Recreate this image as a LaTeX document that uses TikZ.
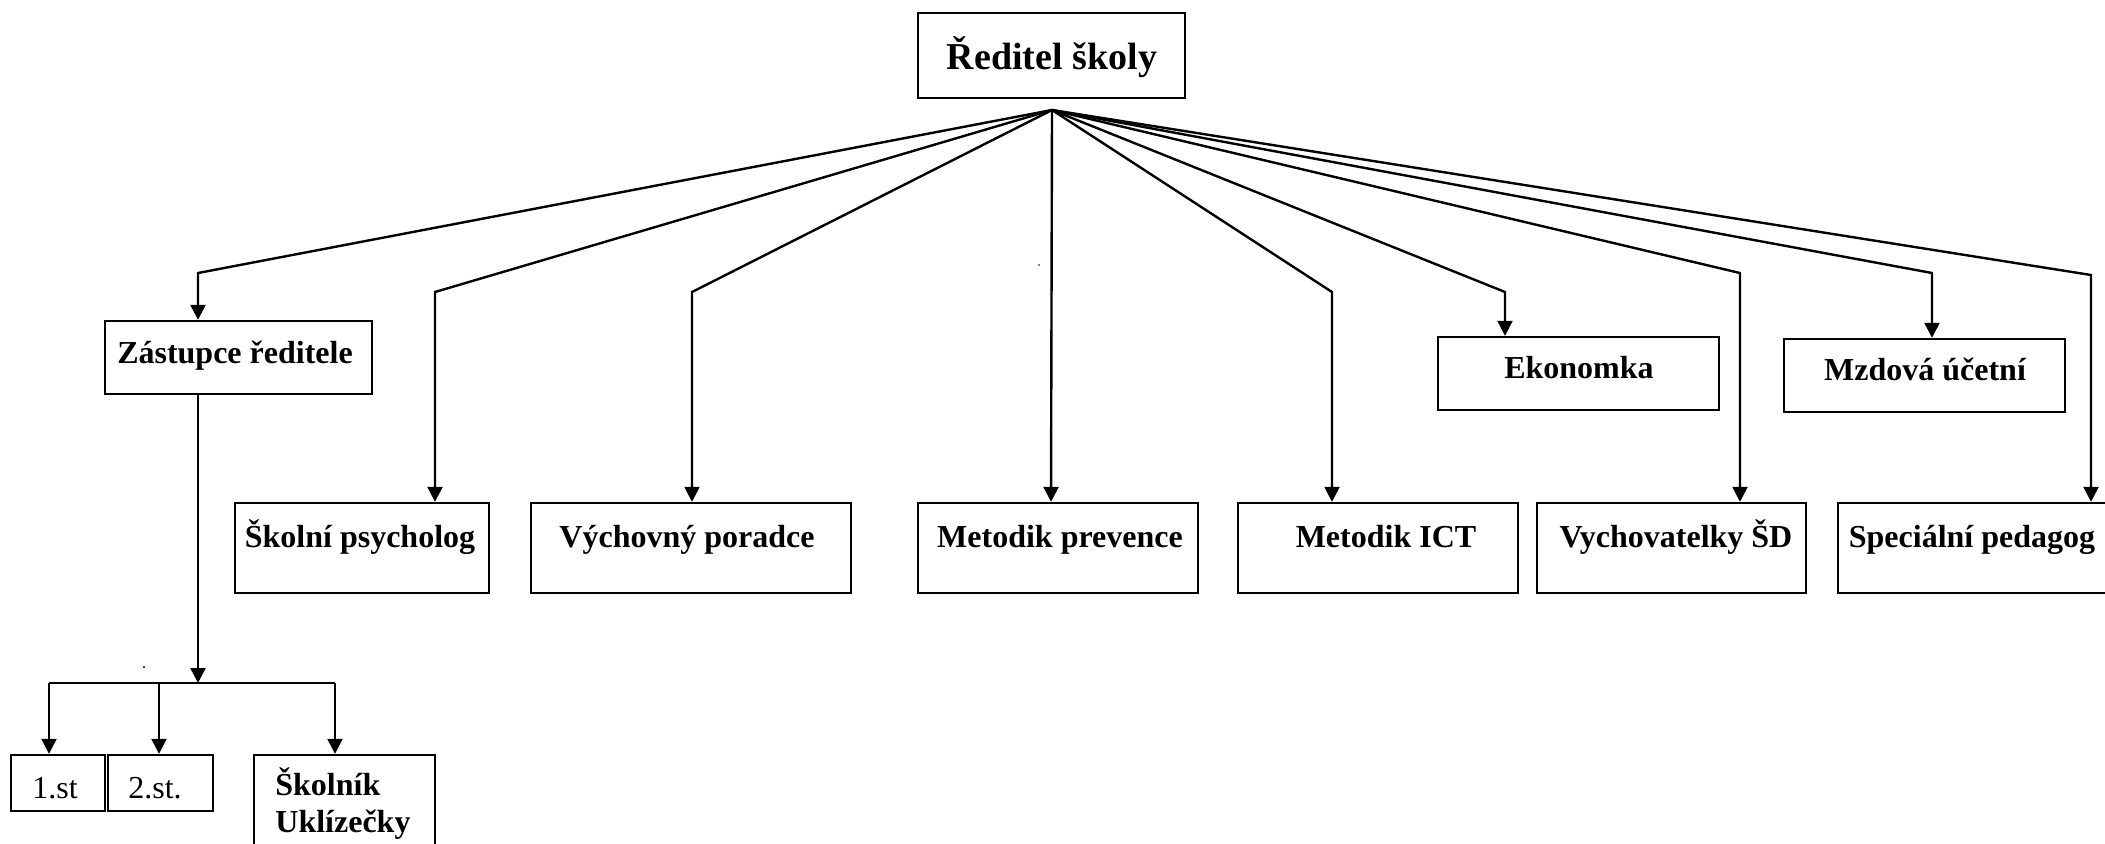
\documentclass[tikz,border=0pt]{standalone}
\usepackage{fontspec}
\setmainfont{Liberation Serif}
\usetikzlibrary{arrows.meta}
\begin{document}
\begin{tikzpicture}[x=0.5pt,y=-0.5pt,
  box/.style={draw,line width=1.2pt,inner sep=0pt},
  lbl/.style={anchor=base,inner sep=0pt,font=\fontsize{16}{19}\selectfont\bfseries},
  plain/.style={anchor=base,inner sep=0pt,font=\fontsize{16}{19}\selectfont},
  conn/.style={line width=1.2pt},
  arr/.style={line width=1.2pt,-{Triangle[length=7.5pt,width=7.5pt]}}]
\useasboundingbox (0,0) rectangle (2105,843);
\clip (0,0) rectangle (2105,843);
% boxes
\node[box,minimum width=133.5pt,minimum height=42.5pt] (dir) at (1051.5,55.5) {};
\node[box,minimum width=133.5pt,minimum height=36.5pt] (zast) at (238.5,357.5) {};
\node[box,minimum width=127pt,minimum height=45pt] (psy) at (362,548) {};
\node[box,minimum width=160pt,minimum height=45pt] (vp) at (691,548) {};
\node[box,minimum width=140pt,minimum height=45pt] (mp) at (1058,548) {};
\node[box,minimum width=140pt,minimum height=45pt] (ict) at (1378,548) {};
\node[box,minimum width=134.5pt,minimum height=45pt] (vsd) at (1671.5,548) {};
\node[box,minimum width=141pt,minimum height=45pt] (sp) at (1979,548) {};
\node[box,minimum width=140.5pt,minimum height=36.5pt] (eko) at (1578.5,373.5) {};
\node[box,minimum width=140.5pt,minimum height=36.5pt] (mzd) at (1924.5,375.5) {};
\node[box,minimum width=47pt,minimum height=28pt] (st1) at (58,783) {};
\node[box,minimum width=52.5pt,minimum height=28pt] (st2) at (160.5,783) {};
\node[box,minimum width=90.5pt,minimum height=57.5pt] (skol) at (344.5,812.5) {};
% texts
\node[lbl,font=\fontsize{19}{23}\selectfont\bfseries] (tdir) at (1052,69) {Ředitel školy};
\node[lbl] (tzast) at (235,363) {Zástupce ředitele};
\node[lbl] (tpsy) at (360,547) {Školní psycholog};
\node[lbl] (tvp) at (687,547) {Výchovný poradce};
\node[lbl] (tmp) at (1060,547) {Metodik prevence};
\node[lbl] (tict) at (1386,547) {Metodik ICT};
\node[lbl] (tvsd) at (1676,547) {Vychovatelky ŠD};
\node[lbl] (tsp) at (1972,547) {Speciální pedagog};
\node[lbl] (teko) at (1579,378) {Ekonomka};
\node[lbl] (tmzd) at (1925,380) {Mzdová účetní};
\node[plain] (tst1) at (55,798) {1.st};
\node[plain] (tst2) at (155,798) {2.st.};
\node[lbl,anchor=base west] (tskol) at (275,795) {Školník};
\node[lbl,anchor=base west] (tukl) at (275,832) {Uklízečky};
% connectors
\coordinate (apex) at (1052,110);
\draw[arr] (apex) -- (198,273) -- (198,0 |- zast.north);
\draw[arr] (apex) -- (435,292) -- (435,0 |- psy.north);
\draw[arr] (apex) -- (692,292) -- (692,0 |- vp.north);
\draw[arr] (apex) -- (1051,0 |- mp.north);
\draw[arr] (apex) -- (1332,292) -- (1332,0 |- ict.north);
\draw[arr] (apex) -- (1505,292) -- (1505,0 |- eko.north);
\draw[arr] (apex) -- (1740,273) -- (1740,0 |- vsd.north);
\draw[arr] (apex) -- (1932,273) -- (1932,0 |- mzd.north);
\draw[arr] (apex) -- (2091,275) -- (2091,0 |- sp.north);
% deputy branch
\coordinate (bar) at (198,683);
\draw[arr] (198,0 |- zast.south) -- (bar);
\draw[conn] (49,683) -- (335,683);
\draw[arr] (49,683) -- (49,0 |- st1.north);
\draw[arr] (159,683) -- (159,0 |- st2.north);
\draw[arr] (335,683) -- (335,0 |- skol.north);
% stray dots
\fill (144,667) circle (0.6pt);
\fill (1039,265) circle (0.4pt);
\end{tikzpicture}
\end{document}
